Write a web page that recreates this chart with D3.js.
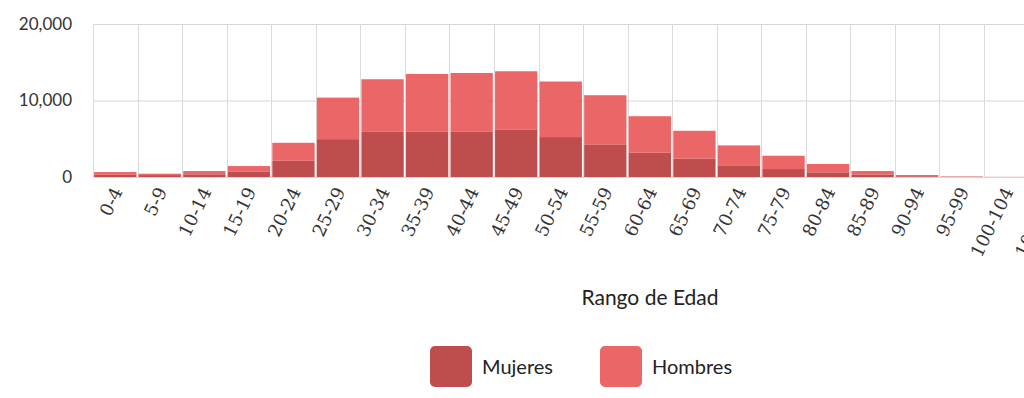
<!DOCTYPE html>
<html>
<head>
<meta charset="utf-8">
<script src="https://cdnjs.cloudflare.com/ajax/libs/d3/7.8.5/d3.min.js"></script>
<style>
  body { margin: 0; background: #fff; }
  svg { display: block; }
</style>
</head>
<body>
<script>
// age groups and counts
var ageGroups = ['0-4','5-9','10-14','15-19','20-24','25-29','30-34','35-39','40-44','45-49',
  '50-54','55-59','60-64','65-69','70-74','75-79','80-84','85-89','90-94','95-99','100-104','105-109'];
var mujeres = [300, 250, 350, 690, 2120, 4950, 5900, 5900, 5900, 6170,
  5220, 4260, 3170, 2390, 1530, 1040, 610, 310, 100, 30, 10, 2];
var hombres = [350, 180, 430, 740, 2350, 5430, 6880, 7570, 7700, 7650,
  7260, 6430, 4780, 3650, 2600, 1740, 1090, 470, 160, 50, 10, 3];
var yTicks = [0, 10000, 20000];
var seriesNames = ['Mujeres', 'Hombres'];
var colors = ['rgb(185,58,59)', 'rgb(233,85,87)'];

var width = 1024,
    height = 398;

var plotLeft = 93, plotTop = 24, plotBottom = 177;
var band = 44.55;

var svg = d3.select('body').append('svg')
    .attr('width', width)
    .attr('height', height);

var x = d3.scaleBand()
    .domain(ageGroups)
    .range([plotLeft, plotLeft + band * ageGroups.length])
    .paddingInner(0.05)
    .paddingOuter(0.025);

var y = d3.scaleLinear()
    .domain([0, 20000])
    .range([plotBottom, plotTop]);

// grid
var grid = svg.append('g');
grid.selectAll('line.h')
    .data(yTicks)
  .enter().append('line')
    .attr('x1', plotLeft)
    .attr('x2', width)
    .attr('y1', function(d){ return y(d) + 0.5; })
    .attr('y2', function(d){ return y(d) + 0.5; })
    .style('stroke', '#d6d6d6')
    .style('stroke-width', 1);

grid.selectAll('line.v')
    .data(ageGroups)
  .enter().append('line')
    .attr('x1', function(d, i){ return Math.round(plotLeft + i * band) + 0.5; })
    .attr('x2', function(d, i){ return Math.round(plotLeft + i * band) + 0.5; })
    .attr('y1', plotTop)
    .attr('y2', plotBottom)
    .style('stroke', '#dadada')
    .style('stroke-width', 1);

// stacked bars
var rows = ageGroups.map(function(g, i){
  return {age: g, Mujeres: mujeres[i], Hombres: hombres[i]};
});
var stacked = d3.stack().keys(seriesNames)(rows);

svg.selectAll('g.layer')
    .data(stacked)
  .enter().append('g')
    .attr('class', 'layer')
    .style('fill', function(d, i){ return colors[i]; })
    .style('fill-opacity', 0.9)
  .selectAll('rect')
    .data(function(d){ return d; })
  .enter().append('rect')
    .attr('x', function(d){ return x(d.data.age); })
    .attr('width', x.bandwidth())
    .attr('y', function(d){ return y(d[1]); })
    .attr('height', function(d){ return Math.max(0, y(d[0]) - y(d[1])); });

// y axis labels
svg.append('g')
    .attr('transform', 'translate(' + (plotLeft - 18) + ',0)')
    .call(d3.axisLeft(y).tickValues(yTicks).tickSize(0).tickFormat(d3.format(',')))
    .call(function(g){ g.select('.domain').remove(); })
    .selectAll('text')
    .style('font-family', 'Lato, sans-serif')
    .style('font-size', '17px')
    .style('fill', '#333');

// x axis labels
svg.append('g')
    .attr('transform', 'translate(0,' + plotBottom + ')')
    .call(d3.axisBottom(x).tickSize(0))
    .call(function(g){ g.select('.domain').remove(); })
    .selectAll('text')
    .attr('text-anchor', 'end')
    .attr('dx', 0)
    .attr('dy', 0)
    .attr('transform', 'translate(5,13) rotate(-64)')
    .style('font-family', '"DejaVu Serif", serif')
    .style('font-size', '18px')
    .style('fill', '#333');

svg.append('text')
    .attr('x', 650)
    .attr('y', 305)
    .attr('text-anchor', 'middle')
    .style('font-family', 'Lato, sans-serif')
    .style('font-size', '21px')
    .style('fill', '#222')
    .text('Rango de Edad');

// legend
var legendX = [430, 600];
var legend = svg.selectAll('g.legend')
    .data(seriesNames)
  .enter().append('g')
    .attr('transform', function(d, i){ return 'translate(' + legendX[i] + ',346)'; });

legend.append('rect')
    .attr('width', 42)
    .attr('height', 41)
    .attr('rx', 5)
    .style('fill', function(d, i){ return colors[i]; })
    .style('fill-opacity', 0.9);

legend.append('text')
    .attr('x', 52)
    .attr('y', 28)
    .style('font-family', 'Lato, sans-serif')
    .style('font-size', '20px')
    .style('fill', '#222')
    .text(function(d){ return d; });
</script>
</body>
</html>
